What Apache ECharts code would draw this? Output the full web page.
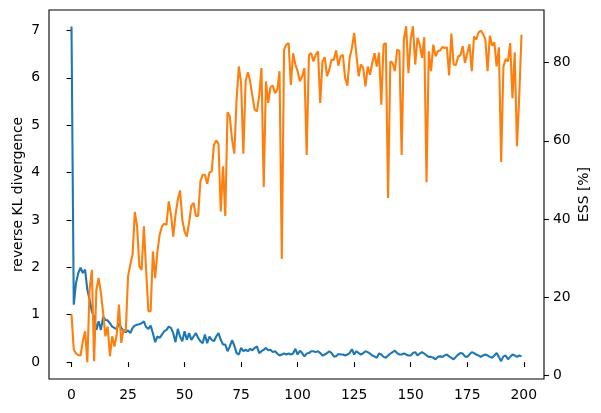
<!DOCTYPE html>
<html>
<head>
<meta charset="utf-8">
<script src="https://cdn.jsdelivr.net/npm/echarts@6/dist/echarts.min.js"></script>
<style>html,body{margin:0;padding:0;background:#fff;}#c{width:601px;height:413px;}</style>
</head>
<body>
<div id="c"></div>
<script>
const xTicks = [0, 25, 50, 75, 100, 125, 150, 175, 200];
const klTicks = [0, 1, 2, 3, 4, 5, 6, 7];
const essTicks = [0, 20, 40, 60, 80];

const klDivergence = [
7.08,1.21,1.67,1.88,1.99,1.88,1.95,1.53,1.32,1.07,0.96,0.68,0.86,0.68,0.96,0.89,0.88,0.82,0.75,0.72,
0.70,0.82,0.72,0.66,0.63,0.67,0.61,0.72,0.77,0.79,0.80,0.82,0.86,0.74,0.70,0.77,0.61,0.42,0.54,0.51,
0.58,0.65,0.68,0.75,0.72,0.61,0.42,0.70,0.54,0.44,0.65,0.47,0.61,0.47,0.54,0.61,0.51,0.44,0.40,0.58,
0.40,0.54,0.47,0.44,0.54,0.61,0.47,0.37,0.37,0.23,0.33,0.46,0.35,0.19,0.16,0.30,0.23,0.26,0.23,0.28,
0.25,0.30,0.33,0.19,0.23,0.26,0.30,0.25,0.26,0.21,0.23,0.18,0.14,0.16,0.18,0.16,0.18,0.16,0.18,0.28,
0.16,0.24,0.19,0.12,0.18,0.19,0.23,0.23,0.21,0.23,0.19,0.14,0.16,0.19,0.23,0.19,0.12,0.12,0.17,0.16,
0.16,0.14,0.16,0.19,0.27,0.16,0.23,0.19,0.16,0.19,0.23,0.21,0.18,0.14,0.12,0.09,0.18,0.16,0.11,0.09,
0.14,0.18,0.21,0.24,0.19,0.16,0.16,0.18,0.16,0.14,0.14,0.19,0.21,0.14,0.18,0.21,0.18,0.14,0.11,0.11,
0.09,0.06,0.11,0.12,0.11,0.14,0.16,0.12,0.09,0.06,0.11,0.16,0.19,0.18,0.12,0.11,0.16,0.21,0.19,0.16,
0.14,0.11,0.14,0.16,0.14,0.11,0.09,0.14,0.19,0.11,0.02,0.12,0.14,0.06,0.11,0.16,0.14,0.11,0.14,0.12
];

const essPercent = [
15.6,6.6,5.6,5.2,5.1,8.7,11.3,3.4,21.9,27.0,3.6,21.9,24.9,21.1,16.0,10.0,12.5,4.9,10.0,7.4,
10.4,18.1,8.3,11.7,11.3,25.3,28.3,30.9,41.8,38.1,27.9,27.0,38.1,27.0,16.4,16.4,31.7,24.9,31.7,36.0,
38.1,38.8,38.5,44.5,41.1,35.5,41.1,44.9,47.3,39.8,36.8,35.5,39.0,43.4,44.1,40.8,40.8,49.6,51.3,51.3,
49.0,51.9,52.2,59.0,60.1,59.3,41.9,53.5,40.8,67.3,66.2,60.3,56.7,70.5,79.0,74.8,56.7,75.2,77.5,75.2,
71.4,68.0,67.5,71.4,78.6,48.2,75.2,69.7,73.8,74.1,72.2,73.1,77.8,29.8,83.3,84.6,85.0,74.3,82.4,79.5,
77.8,75.2,76.5,78.6,56.4,82.0,82.4,80.3,82.0,82.9,69.7,80.3,81.4,76.5,78.2,80.7,80.7,83.1,79.2,81.6,
82.0,76.1,74.1,81.2,83.7,87.6,82.0,76.5,79.5,78.6,73.9,79.0,76.9,79.9,82.4,79.0,82.6,69.2,84.6,85.0,
45.4,80.3,79.9,77.8,83.3,83.0,56.4,85.9,89.3,77.3,85.9,89.3,79.5,86.3,84.6,81.2,86.5,49.4,82.9,77.8,
84.6,81.6,82.9,83.1,84.0,83.7,83.9,76.7,87.4,79.5,79.4,81.6,81.8,84.2,79.9,82.4,84.7,77.8,86.7,85.9,
87.7,88.2,87.3,86.0,77.8,86.9,84.3,85.2,79.0,83.9,54.6,79.0,80.9,80.3,85.0,70.9,82.6,58.6,71.4,87.1
];

const iterations = klDivergence.map((_, i) => i);

const font = { fontFamily: 'DejaVu Sans', fontSize: 13.9, color: '#000' };
const tickStyle = { show: true, length: 4.9, lineStyle: { color: '#000', width: 1.1 } };

const chart = echarts.init(document.getElementById('c'), null, { renderer: 'canvas' });
chart.setOption({
  animation: false,
  backgroundColor: '#fff',
  grid: { left: 49, right: 57, top: 10, bottom: 34, show: true, borderColor: '#000', borderWidth: 1.1,
          backgroundColor: 'transparent', containLabel: false, outerBoundsMode: 'none' },
  xAxis: {
    type: 'value', min: -9.95, max: 208.95,
    axisLine: { show: false },
    axisTick: Object.assign({ customValues: xTicks }, tickStyle),
    axisLabel: Object.assign({ customValues: xTicks, margin: 9 }, font),
    splitLine: { show: false }
  },
  yAxis: [{
    type: 'value', min: -0.357, max: 7.43, position: 'left',
    name: 'reverse KL divergence', nameLocation: 'middle', nameRotate: 90, nameGap: 24,
    nameMoveOverlap: false,
    nameTextStyle: font,
    axisLine: { show: false },
    axisTick: Object.assign({ customValues: klTicks }, tickStyle),
    axisLabel: Object.assign({ customValues: klTicks, margin: 9 }, font),
    splitLine: { show: false }
  }, {
    type: 'value', min: -0.92, max: 93.45, position: 'right',
    name: 'ESS [%]', nameLocation: 'middle', nameRotate: 90, nameGap: 33,
    nameMoveOverlap: false,
    nameTextStyle: font,
    axisLine: { show: false },
    axisTick: Object.assign({ customValues: essTicks }, tickStyle),
    axisLabel: Object.assign({ customValues: essTicks, margin: 9 }, font),
    splitLine: { show: false }
  }],
  series: [{
    type: 'line', yAxisIndex: 0, showSymbol: false,
    data: iterations.map(i => [i, klDivergence[i]]),
    lineStyle: { color: '#1f77b4', width: 2.1 }, itemStyle: { color: '#1f77b4' }
  }, {
    type: 'line', yAxisIndex: 1, showSymbol: false,
    data: iterations.map(i => [i, essPercent[i]]),
    lineStyle: { color: '#ff7f0e', width: 2.1 }, itemStyle: { color: '#ff7f0e' }
  }]
});
</script>
</body>
</html>
